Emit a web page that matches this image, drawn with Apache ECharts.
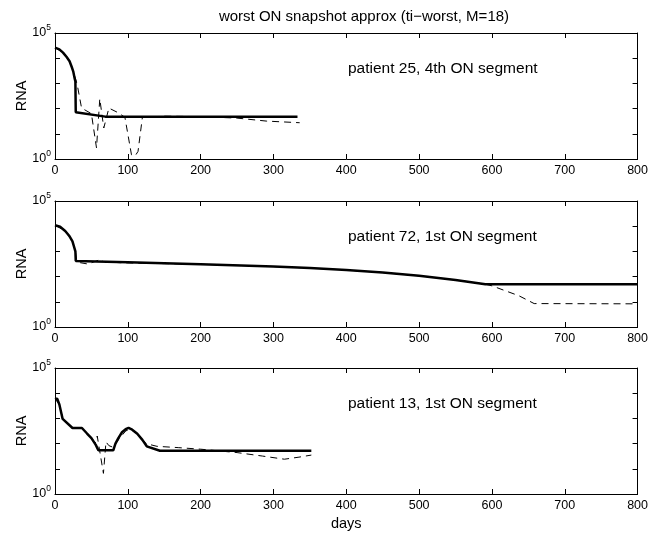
<!DOCTYPE html>
<html>
<head>
<meta charset="utf-8">
<script src="https://cdn.jsdelivr.net/npm/echarts@6/dist/echarts.min.js"></script>
<style>
html,body{margin:0;padding:0;background:#fff;}
#chart{width:651px;height:536px;}
</style>
</head>
<body>
<div id="chart"></div>
<script>
// ---- data (days, RNA copies) ----
const xTicks = [0, 100, 200, 300, 400, 500, 600, 700, 800];
const titleText = 'worst ON snapshot approx (ti\u2212worst, M=18)';
const panelLabels = ['patient 25, 4th ON segment', 'patient 72, 1st ON segment', 'patient 13, 1st ON segment'];

// patient 25 – model (solid)
const p25SolidDays = [0, 6, 11, 16, 20, 23, 25, 27, 28, 28.5, 69, 333];
const p25SolidRNA  = [26300, 22400, 16600, 11200, 7590, 4470, 3020, 1580, 1200, 71, 48, 48];
// patient 25 – data (dashed)
const p25DashDays = [0, 11, 20, 25, 28, 30.5, 36.5, 50, 57, 61.5, 67, 74, 87, 96, 105, 110, 114, 120, 150, 200, 250, 290, 336];
const p25DashRNA  = [26300, 16600, 7590, 3020, 1580, 890, 105, 63, 2.75, 245, 17, 105, 68, 45, 1.48, 1.32, 2.0, 45, 50, 48, 42, 32, 27.5];

// patient 72
const p72SolidDays = [0, 7, 14, 20, 24, 27, 28, 28.5, 100, 200, 300, 350, 400, 450, 500, 550, 591, 800];
const p72SolidRNA  = [10960, 9550, 6460, 3980, 2510, 1260, 1000, 417, 372, 309, 251, 219, 182, 145, 107, 74, 50, 50];
const p72DashDays = [0, 14, 24, 28, 30, 35, 45, 55, 62, 66, 72, 90, 120, 200, 300, 350, 400, 450, 500, 550, 591, 600, 637, 658, 800];
const p72DashRNA  = [10960, 6460, 2510, 1000, 417, 355, 316, 398, 479, 398, 380, 355, 339, 309, 251, 219, 182, 145, 107, 74, 50, 43, 17.4, 8.5, 8.3];

// patient 13
const p13SolidDays = [0, 3, 6, 10.5, 12, 24, 37, 44, 50, 56, 59.5, 80, 83, 87, 92, 97, 101, 106, 113, 120, 126, 144, 352];
const p13SolidRNA  = [6030, 6030, 3550, 955, 832, 417, 417, 251, 166, 89, 54, 54, 100, 166, 282, 372, 417, 355, 245, 141, 78, 52, 52];
const p13DashDays = [0, 6, 10.5, 24, 37, 50, 55, 58, 62, 66.5, 70, 74, 80, 87, 97, 101, 108, 115, 125, 140, 170, 200, 250, 285, 315, 335, 352];
const p13DashRNA  = [6030, 3550, 955, 417, 417, 178, 100, 200, 40, 6.6, 117, 83, 71, 141, 316, 355, 316, 219, 100, 78, 69, 60, 44, 32, 24, 29, 35];

const panels = [
  {solidX: p25SolidDays, solidY: p25SolidRNA, dashX: p25DashDays, dashY: p25DashRNA},
  {solidX: p72SolidDays, solidY: p72SolidRNA, dashX: p72DashDays, dashY: p72DashRNA},
  {solidX: p13SolidDays, solidY: p13SolidRNA, dashX: p13DashDays, dashY: p13DashRNA}
];

// ---- layout ----
const FONT = 'Liberation Sans, Arial, Helvetica, sans-serif';
const tops = [33, 201, 368];
const H = 126, L = 55, R = 12;

const zip = (a, b) => a.map((v, i) => [v, b[i]]);

const grids = [], xAxes = [], yAxes = [], series = [], graphics = [];
panels.forEach((p, i) => {
  grids.push({left: L, right: R, top: tops[i], height: H, show: false});
  const xBase = {
    type: 'value', min: xTicks[0], max: xTicks[xTicks.length - 1], interval: 100, gridIndex: i,
    splitLine: {show: false},
    axisLine: {show: true, onZero: false, lineStyle: {color: '#000', width: 1}},
    axisTick: {show: true, inside: true, length: 5, lineStyle: {color: '#000'}}
  };
  xAxes.push(Object.assign({}, xBase, {
    position: 'bottom',
    axisLabel: {show: true, color: '#000', fontSize: 12.5, fontFamily: FONT, margin: 5},
    name: i === 2 ? 'days' : '', nameLocation: 'middle', nameGap: 22, nameMoveOverlap: false,
    nameTextStyle: {color: '#000', fontSize: 14.5, fontFamily: FONT, verticalAlign: 'top'}
  }));
  xAxes.push(Object.assign({}, xBase, {position: 'top', axisLabel: {show: false}}));
  const yBase = {
    type: 'log', logBase: 10, min: 1, max: 100000, gridIndex: i,
    splitLine: {show: false},
    axisLine: {show: true, onZero: false, lineStyle: {color: '#000', width: 1}},
    axisTick: {show: true, inside: true, length: 5, lineStyle: {color: '#000'}}
  };
  yAxes.push(Object.assign({}, yBase, {
    position: 'left',
    name: 'RNA', nameLocation: 'middle', nameGap: 26, nameRotate: 90, nameMoveOverlap: false,
    nameTextStyle: {color: '#000', fontSize: 14.5, fontFamily: FONT},
    axisLabel: {
      show: true, margin: 4, color: '#000', fontFamily: FONT,
      formatter: function (v) {
        const e = Math.round(Math.log10(v));
        if (e === 0 || e === 5) return '{b|10}{s|' + e + '}';
        return '';
      },
      rich: {
        b: {fontSize: 12.5, fontFamily: FONT, color: '#000'},
        s: {fontSize: 8.5, fontFamily: FONT, color: '#000', verticalAlign: 'top', padding: [0, 0, 10, 0]}
      }
    }
  }));
  yAxes.push(Object.assign({}, yBase, {position: 'right', axisLabel: {show: false}}));

  series.push({
    type: 'line', xAxisIndex: 2 * i, yAxisIndex: 2 * i, data: zip(p.dashX, p.dashY),
    showSymbol: false, symbol: 'none', animation: false,
    lineStyle: {color: '#000', width: 1, type: [7, 5]}
  });
  series.push({
    type: 'line', xAxisIndex: 2 * i, yAxisIndex: 2 * i, data: zip(p.solidX, p.solidY),
    showSymbol: false, symbol: 'none', animation: false,
    lineStyle: {color: '#000', width: 2.5}
  });

  graphics.push({
    type: 'text', left: 348, top: tops[i] + 28,
    style: {text: panelLabels[i], fill: '#000', fontSize: 15.5, fontFamily: FONT}
  });
});

const chart = echarts.init(document.getElementById('chart'), null, {renderer: 'canvas'});
chart.setOption({
  backgroundColor: '#fff',
  animation: false,
  title: {
    text: titleText, left: 359, textAlign: 'center', top: 4,
    textStyle: {color: '#000', fontSize: 15, fontWeight: 'normal', fontFamily: FONT}
  },
  grid: grids, xAxis: xAxes, yAxis: yAxes, series: series, graphic: graphics
});
</script>
</body>
</html>
